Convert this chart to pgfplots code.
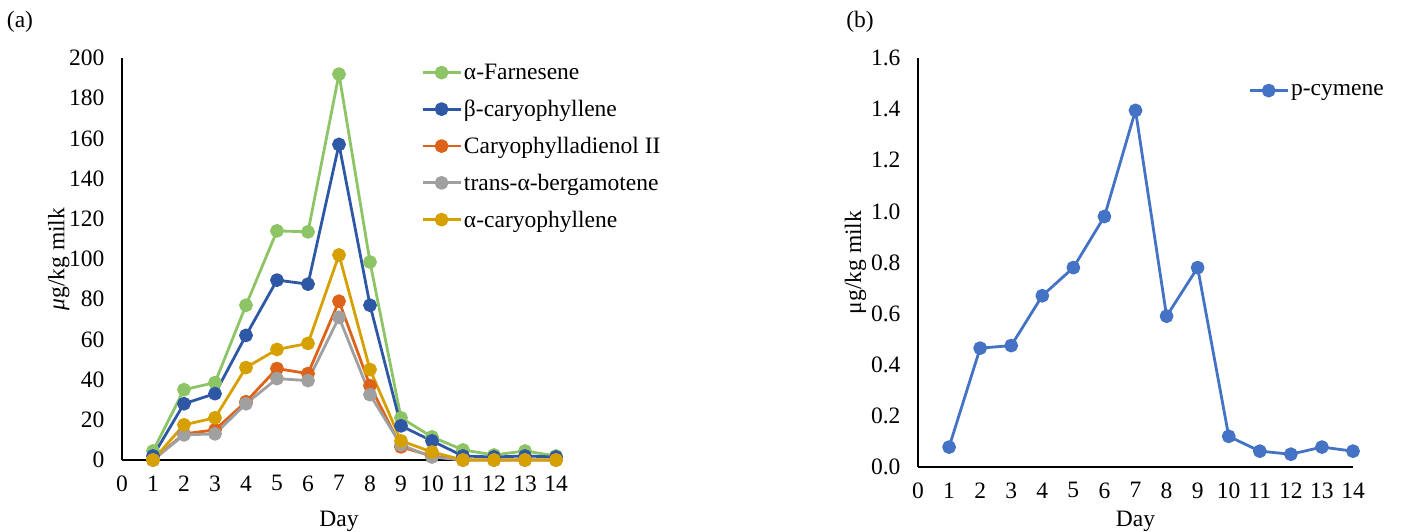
\documentclass[border=0pt]{standalone}
\usepackage{pgfplots}
\pgfplotsset{compat=1.18}
\usepackage{fontspec}
\setmainfont{Liberation Serif}
\definecolor{cgreen}{RGB}{141,196,102}
\definecolor{cblue}{RGB}{46,88,165}
\definecolor{corange}{RGB}{222,99,24}
\definecolor{cgray}{RGB}{160,160,160}
\definecolor{cgold}{RGB}{214,160,0}
\definecolor{cblue2}{RGB}{68,114,196}
\newcommand{\fs}{\fontsize{23.5}{27}\selectfont}
\pgfplotsset{
  base/.style={
    scale only axis, clip=false,
    axis lines=left, axis line style={black, line width=1.5pt, -},
    major tick length=0pt,
    xmin=0, xmax=14, xtick={0,...,14},
    tick label style={font=\fs},
    label style={font=\fs},
    /pgf/number format/assume math mode=true,
    xticklabel style={yshift=-12pt},
    yticklabel style={xshift=-14pt},
    legend style={draw=none, fill=none, font=\fs, row sep=15pt, cells={anchor=west}},
    legend image code/.code={\draw[mark repeat=2, mark phase=2] plot coordinates {(0pt,0pt)(19pt,0pt)(38pt,0pt)};},
    every axis plot/.append style={line width=2.8pt, line join=round, mark=*, mark size=5.5pt, mark options={solid}},
  }
}
\begin{document}
\begin{tikzpicture}
\path (0pt,0pt) rectangle (1402pt,-529pt);
\node[font=\fs, anchor=center] at (20pt,-22pt) {(a)};
\node[font=\fs, anchor=center] at (860pt,-22pt) {(b)};
\begin{axis}[base, at={(122pt,-460pt)}, anchor=south west, width=434pt, height=402pt,
  ymin=0, ymax=200, ytick={0,20,...,200},
  xlabel={Day}, ylabel={\textit{μ}g/kg milk},
  xlabel style={yshift=-16pt, inner sep=0pt}, ylabel style={yshift=-7pt},
  legend style={at={(0.682,0.995)}, anchor=north west}]
\addplot[cgreen, mark options={fill=cgreen}] coordinates {(1,4.5)(2,35)(3,38.5)(4,77)(5,114)(6,113.5)(7,192)(8,98.5)(9,21)(10,11.5)(11,5)(12,2.5)(13,4.5)(14,2)};
\addlegendentry{α-Farnesene}
\addplot[cblue, mark options={fill=cblue}] coordinates {(1,2)(2,28)(3,33)(4,62)(5,89.5)(6,87.5)(7,157)(8,77)(9,17)(10,9.5)(11,2)(12,1.5)(13,2)(14,1.5)};
\addlegendentry{β-caryophyllene}
\addplot[corange, mark options={fill=corange}] coordinates {(1,0)(2,13)(3,15)(4,29)(5,45.5)(6,43)(7,79)(8,37)(9,6.5)(10,2)(11,0)(12,0)(13,0)(14,0)};
\addlegendentry{Caryophylladienol II}
\addplot[cgray, mark options={fill=cgray}] coordinates {(1,0)(2,12.5)(3,13)(4,28)(5,40.5)(6,39.5)(7,71)(8,32.5)(9,7.5)(10,1.5)(11,0)(12,0)(13,0)(14,0)};
\addlegendentry{trans-α-bergamotene}
\addplot[cgold, mark options={fill=cgold}] coordinates {(1,0)(2,17.5)(3,21)(4,46)(5,55)(6,58)(7,102)(8,45)(9,9.5)(10,4)(11,0)(12,0)(13,0)(14,0)};
\addlegendentry{α-caryophyllene}
\end{axis}
\begin{axis}[base, at={(918pt,-467pt)}, anchor=south west, width=435pt, height=409pt,
  ymin=0, ymax=1.6, ytick={0,0.2,...,1.6},
  yticklabel style={/pgf/number format/.cd, fixed, fixed zerofill, precision=1},
  xlabel={Day}, ylabel={μg/kg milk},
  xlabel style={yshift=-9pt, inner sep=0pt}, ylabel style={yshift=-2pt},
  legend style={at={(0.752,0.946)}, anchor=north west}]
\addplot[cblue2, mark options={fill=cblue2}] coordinates {(1,0.078)(2,0.465)(3,0.475)(4,0.67)(5,0.78)(6,0.98)(7,1.395)(8,0.59)(9,0.78)(10,0.12)(11,0.062)(12,0.05)(13,0.078)(14,0.062)};
\addlegendentry{p-cymene}
\end{axis}
\end{tikzpicture}
\end{document}
